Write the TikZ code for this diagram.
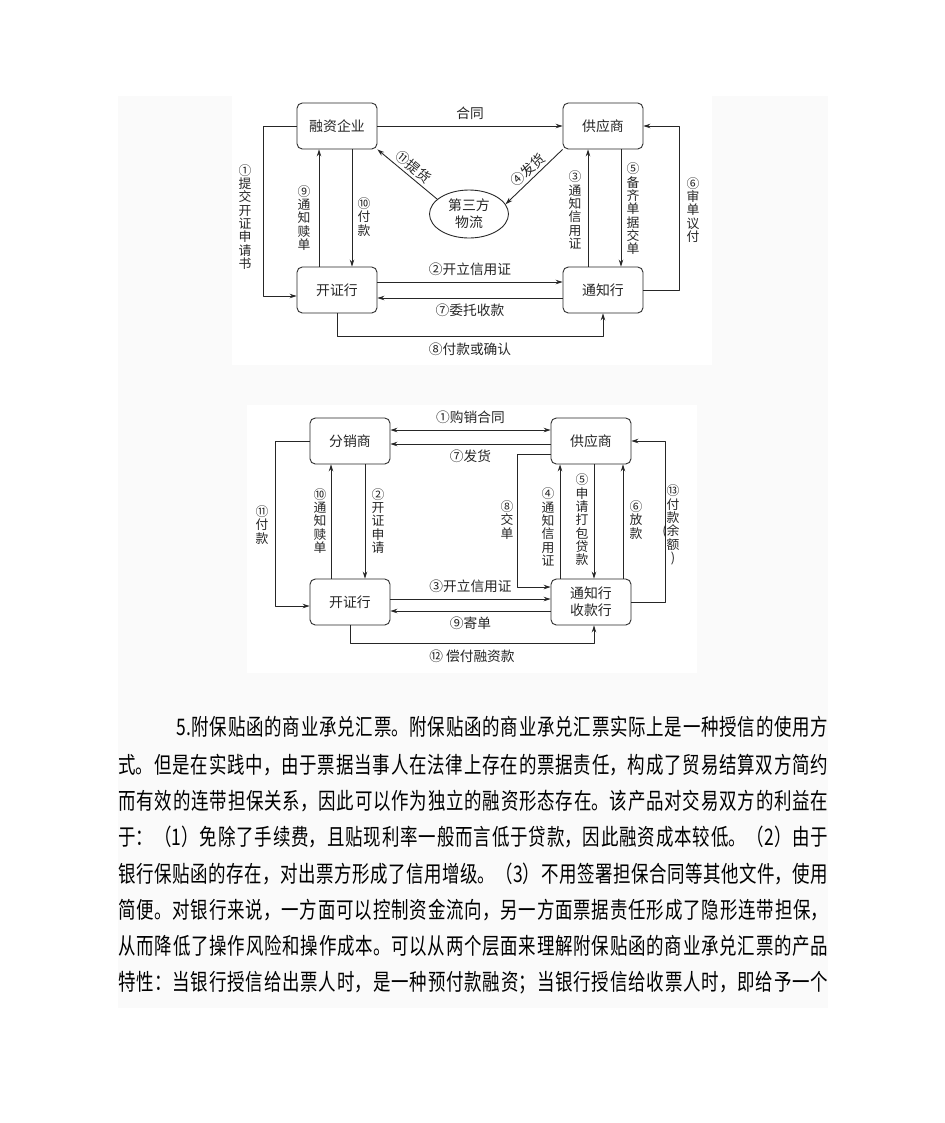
\documentclass[tikz,border=0pt]{standalone}
\usepackage{fontspec}
\setmainfont{Noto Sans CJK SC}
\newfontfamily\bodyfont[FakeStretch=0.765]{Noto Sans CJK SC}
\usetikzlibrary{arrows.meta,shapes.geometric}
\XeTeXlinebreaklocale "zh"
\XeTeXlinebreakskip=0pt plus 1pt
\tikzset{
  box/.style={draw,rounded corners=3pt,minimum width=1.6cm,minimum height=.92cm,
    align=center,font=\fontsize{7.9}{9.5}\selectfont},
  ell/.style={draw,ellipse,minimum width=1.58cm,minimum height=.96cm,inner sep=0pt,
    align=center,font=\fontsize{7.9}{9.6}\selectfont},
  vt/.style={align=center,inner sep=0pt,font=\fontsize{7.3}{7.6}\selectfont},
  hl/.style={font=\fontsize{7.8}{9}\selectfont},
  para/.style={anchor=west,text width=14.2cm,align=justify,inner sep=0pt,
    text=black,font=\bodyfont\fontsize{13}{15}\selectfont},
}
\begin{document}
\begin{tikzpicture}[x=0.02cm,y=-0.02cm,line width=.5pt,line join=round,
  >={Stealth[length=4pt,width=2.6pt]},color=black!85]
 \useasboundingbox (0,0) rectangle (945,1123);
 \fill[black!2] (118,96) rectangle (828,1008);
 \fill[white] (232,96) rectangle (712,365) (247,405) rectangle (697,673);
 % first chart
 \node[box] (rz) at (337,126) {融资企业};
 \node[box] (gy) at (603,126) {供应商};
 \node[box] (kz) at (337,290) {开证行};
 \node[box] (tz) at (603,290) {通知行};
 \node[ell] (wl) at (469,214) {第三方\\物流};
 \draw[->] (rz) -- node[hl,above]{合同} (gy);
 \draw[->] (rz.west) -- ++(-33,0) |- ([yshift=-.12cm]kz.west);
 \draw[->] ([xshift=-.36cm]kz.north) -- ([xshift=-.36cm]rz.south);
 \draw[->] ([xshift=.3cm]rz.south) -- ([xshift=.3cm]kz.north);
 \draw[->] (wl.155) -- node[hl,sloped,above,inner sep=1.5pt]{⑪提货} (rz.south east);
 \draw[->] (gy.south west) -- node[hl,sloped,above,inner sep=1.5pt]{④发货} (wl.15);
 \draw[->] ([xshift=-.3cm]tz.north) -- ([xshift=-.3cm]gy.south);
 \draw[->] ([xshift=.36cm]gy.south) -- ([xshift=.36cm]tz.north);
 \draw[->] (tz.east) -- ++(36,0) |- (gy.east);
 \draw[->] ([yshift=.16cm]kz.east) -- node[hl,above]{②开立信用证} ([yshift=.16cm]tz.west);
 \draw[->] ([yshift=-.16cm]tz.west) -- node[hl,below]{⑦委托收款} ([yshift=-.16cm]kz.east);
 \draw[->] (kz.south) -- ++(0,23) -| node[hl,pos=.25,below]{⑧付款或确认} (tz.south);
 \node[vt] (a1) at (245,217) {①\\提\\交\\开\\证\\申\\请\\书};
 \node[vt] (a9) at (304,218) {⑨\\通\\知\\赎\\单};
 \node[vt] (a10) at (364,217) {⑩\\付\\款};
 \node[vt] (a3) at (575,210) {③\\通\\知\\信\\用\\证};
 \node[vt] (a5) at (633,209) {⑤\\备\\齐\\单\\据\\交\\单};
 \node[vt] (a6) at (693,210) {⑥\\审\\单\\议\\付};
 % second chart
 \node[box] (fx) at (350,441) {分销商};
 \node[box] (gs) at (591,441) {供应商};
 \node[box] (kh) at (350,602) {开证行};
 \node[box] (sk) at (591,602) {通知行\\收款行};
 \draw[<->] ([yshift=.22cm]fx.east) -- node[hl,above]{①购销合同} ([yshift=.22cm]gs.west);
 \draw[->] ([yshift=-.06cm]gs.west) -- node[hl,below]{⑦发货} ([yshift=-.06cm]fx.east);
 \draw[->] (fx.west) -- ++(-34,0) |- ([yshift=-.08cm]kh.west);
 \draw[->] ([xshift=-.38cm]kh.north) -- ([xshift=-.38cm]fx.south);
 \draw[->] ([xshift=.3cm]fx.south) -- ([xshift=.3cm]kh.north);
 \draw[->] ([yshift=.06cm]kh.east) -- node[hl,above]{③开立信用证} ([yshift=.06cm]sk.west);
 \draw[->] ([yshift=-.18cm]sk.west) -- node[hl,below]{⑨寄单} ([yshift=-.18cm]kh.east);
 \draw[->] (kh.south) -- ++(0,18) -| node[hl,pos=.25,below]{⑫ 偿付融资款} ([xshift=.06cm]sk.south);
 \draw[->] ([yshift=-.26cm]gs.west) -- ++(-33,0) |- ([yshift=.3cm]sk.west);
 \draw[->] ([xshift=-.62cm]sk.north) -- ([xshift=-.62cm]gs.south);
 \draw[->] ([xshift=.06cm]gs.south) -- ([xshift=.06cm]sk.north);
 \draw[->] ([xshift=.64cm]sk.north) -- ([xshift=.64cm]gs.south);
 \draw[->] (sk.east) -- ++(34,0) |- (gs.east);
 \node[vt] (b11) at (262,525) {⑪\\付\\款};
 \node[vt] (b10) at (320,521) {⑩\\通\\知\\赎\\单};
 \node[vt] (b2) at (378,521) {②\\开\\证\\申\\请};
 \node[vt] (b8) at (507,520) {⑧\\交\\单};
 \node[vt] (b4) at (548,527) {④\\通\\知\\信\\用\\证};
 \node[vt] (b5) at (582,520) {⑤\\申\\请\\打\\包\\贷\\款};
 \node[vt] (b6) at (636,520) {⑥\\放\\款};
 \node[vt] (b13) at (673,525) {⑬\\付\\款\\\llap{(}余\\额\\)};
 % text
 \foreach \y/\t [count=\i] in {
   727/{\hspace*{1.16cm}5.附保贴函的商业承兑汇票。附保贴函的商业承兑汇票实际上是一种授信的使用方},
   765/{式。但是在实践中，由于票据当事人在法律上存在的票据责任，构成了贸易结算双方简约},
   801/{而有效的连带担保关系，因此可以作为独立的融资形态存在。该产品对交易双方的利益在},
   837/{于：（1）免除了手续费，且贴现利率一般而言低于贷款，因此融资成本较低。（2）由于},
   874/{银行保贴函的存在，对出票方形成了信用增级。（3）不用签署担保合同等其他文件，使用},
   910/{简便。对银行来说，一方面可以控制资金流向，另一方面票据责任形成了隐形连带担保，},
   946/{从而降低了操作风险和操作成本。可以从两个层面来理解附保贴函的商业承兑汇票的产品},
   983/{特性：当银行授信给出票人时，是一种预付款融资；当银行授信给收票人时，即给予一个}}
   \node[para] (p\i) at (118,\y) {\parfillskip=0pt\relax\t\endgraf};
\end{tikzpicture}
\end{document}
